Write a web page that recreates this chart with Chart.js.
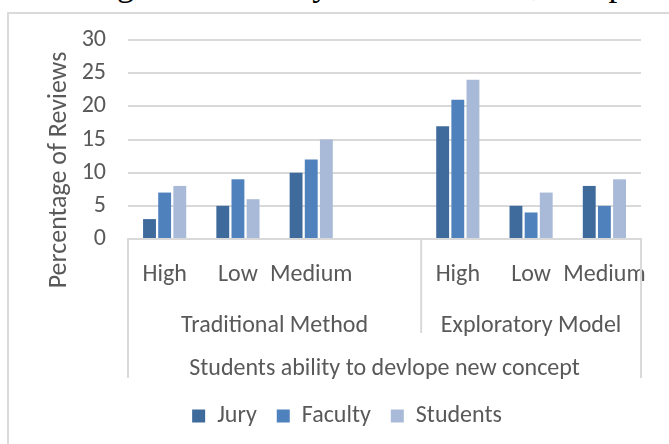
<!DOCTYPE html>
<html>
<head>
<meta charset="utf-8">
<script src="https://cdn.jsdelivr.net/npm/chart.js@4.4.0/dist/chart.umd.min.js"></script>
<style>
  html, body { margin: 0; padding: 0; background: #fff; overflow: hidden; }
  #page { position: relative; width: 669px; height: 444px; overflow: hidden; }
  #lead { position: absolute; left: 7px; top: -34px; font-family: 'Liberation Serif', serif; font-size: 35px; line-height: 35px; white-space: nowrap; color: #000; }
  #frame { position: absolute; left: 7px; top: 12px; width: 700px; height: 500px; border: 2px solid #dadada; box-sizing: border-box; }
  #wrap { position: absolute; left: 0; top: 0; width: 669px; height: 444px; }
</style>
</head>
<body>
<div id="page">
  <div id="lead">re during series of Jury and educators, and pro</div>
  <div id="frame"></div>
  <div id="wrap"><canvas id="chart"></canvas></div>
</div>
<script>
// categories (blank slot keeps the gap inside the first group)
const categories = ['High', 'Low', 'Medium', '', 'High', 'Low', 'Medium'];
const groupLabels = ['Traditional Method', 'Exploratory Model'];
const groupSizes = [4, 3];

const jury     = [3, 5, 10, null, 17, 5, 8];
const faculty  = [7, 9, 12, null, 21, 4, 5];
const students = [8, 6, 15, null, 24, 7, 9];

const yMin = 0, yMax = 30, yStep = 5;
const yTitle = 'Percentage of Reviews';
const xTitle = 'Students ability to devlope new concept';

const textColor = '#595959';
const lineColor = '#d9d9d9';
const fontFamily = 'Carlito, Lato, sans-serif';
const fontSize = 24;

// draws the group row, the box lines under the axis and the y title
const groupAxis = {
    id: 'groupAxis',
    afterDraw(chart) {
        const ctx = chart.ctx;
        const x = chart.scales.x;
        const base = x.top;

        let idx = 0;
        const edges = [x.left];
        groupSizes.forEach(n => {
            idx += n;
            if (idx < categories.length) {
                edges.push((x.getPixelForValue(idx - 1) + x.getPixelForValue(idx)) / 2);
            } else {
                edges.push(x.right);
            }
        });

        ctx.save();
        ctx.strokeStyle = lineColor;
        ctx.lineWidth = 2;
        ctx.beginPath();
        ctx.moveTo(x.left, base); ctx.lineTo(x.left, base + 139);
        ctx.moveTo(x.right, base); ctx.lineTo(x.right, base + 139);
        for (let i = 1; i < edges.length - 1; i++) {
            ctx.moveTo(edges[i], base); ctx.lineTo(edges[i], base + 94);
        }
        ctx.stroke();

        ctx.fillStyle = textColor;
        ctx.font = fontSize + 'px ' + fontFamily;
        ctx.textAlign = 'center';
        ctx.textBaseline = 'middle';
        groupLabels.forEach((g, i) => {
            ctx.fillText(g, (edges[i] + edges[i + 1]) / 2, base + 86.5);
        });

        ctx.font = '26px ' + fontFamily;
        ctx.translate(59, 170);
        ctx.rotate(-Math.PI / 2);
        ctx.fillText(yTitle, 0, 0);
        ctx.restore();
    }
};

const ctx = document.getElementById('chart');

var data = {
    labels: categories,
    datasets: [
        { label: 'Jury', data: jury, backgroundColor: '#3f6a9c' },
        { label: 'Faculty', data: faculty, backgroundColor: '#4f81bd' },
        { label: 'Students', data: students, backgroundColor: '#a9bad8' }
    ]
};

var options = {
    responsive: true,
    maintainAspectRatio: false,
    animation: false,
    devicePixelRatio: 1,
    categoryPercentage: 0.62,
    barPercentage: 0.85,
    layout: {
        padding: { top: 40, left: 45, right: 20, bottom: 6 }
    },
    font: { family: fontFamily, size: fontSize },
    color: textColor,
    scales: {
        x: {
            grid: { display: false, drawTicks: false },
            border: { display: true, color: lineColor, width: 2 },
            ticks: { color: textColor, padding: 22, maxRotation: 0, autoSkip: false, font: { family: fontFamily, size: fontSize } },
            title: { display: true, text: xTitle, color: textColor, padding: { top: 0, bottom: 1 }, font: { family: fontFamily, size: fontSize } },
            afterFit: s => { s.height = 145; }
        },
        y: {
            min: yMin,
            max: yMax,
            grid: { color: lineColor, lineWidth: 2, drawTicks: false },
            border: { display: false },
            ticks: { stepSize: yStep, color: textColor, padding: 22, font: { family: fontFamily, size: fontSize } },
            afterFit: s => { s.width = 83; }
        }
    },
    plugins: {
        legend: {
            position: 'bottom',
            labels: { boxWidth: 13, boxHeight: 13, padding: 20, color: textColor, font: { family: fontFamily, size: fontSize } }
        },
        tooltip: { enabled: false }
    }
};

var chart = new Chart(ctx, {
    type: 'bar',
    data: data,
    options: options,
    plugins: [groupAxis]
});
</script>
</body>
</html>
